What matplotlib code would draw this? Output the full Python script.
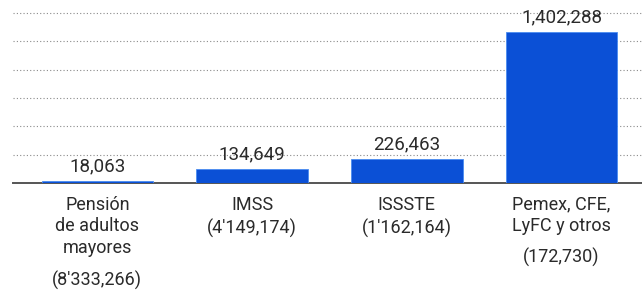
import matplotlib.pyplot as plt
from matplotlib.ticker import MultipleLocator

# pension amounts per group and number of beneficiaries
groups = ["Pensión\nde adultos\nmayores", "IMSS", "ISSSTE", "Pemex, CFE,\nLyFC y otros"]
beneficiaries = ["(8'333,266)", "(4'149,174)", "(1'162,164)", "(172,730)"]
amounts = [18063, 134649, 226463, 1402288]

plt.rcParams['font.family'] = ['Roboto', 'DejaVu Sans']

fig = plt.figure(figsize=(6.42, 2.94), dpi=100)
ax = fig.add_axes([13 / 642, 111 / 294, 629 / 642, 183 / 294])

x = list(range(len(groups)))
ax.bar(x, amounts, width=0.72, color="#0b50d6", edgecolor="#4a8cf0", linewidth=0.6, zorder=3)

ax.set_xlim(-0.545, 3.52)
ax.set_ylim(0, 1700000)
ax.yaxis.set_major_locator(MultipleLocator(263000))
ax.grid(axis="y", color="#8a8a8a", linestyle=(0, (1, 2)), linewidth=0.8, zorder=1)
ax.set_axisbelow(True)

for s in ["top", "right", "left"]:
    ax.spines[s].set_visible(False)
ax.spines["bottom"].set_color("#555555")
ax.spines["bottom"].set_linewidth(1.4)
ax.tick_params(left=False, bottom=False, labelleft=False, labelbottom=False)

for i, v in enumerate(amounts):
    ax.annotate(f"{v:,}", (i, v), xytext=(0, 4), textcoords="offset points",
                ha="center", va="bottom", fontsize=13.5, color="#2a2a2a", zorder=4)

# category names and beneficiaries below the baseline
for i, (g, b) in enumerate(zip(groups, beneficiaries)):
    ax.annotate(g, (i, 0), xytext=(0, -9), textcoords="offset points",
                ha="center", va="top", fontsize=13, color="#2a2a2a", linespacing=1.28,
                annotation_clip=False)
    nlines = g.count("\n") + 1
    off = -9 - nlines * 16.6 - (4.5 if nlines > 1 else 0)
    ax.annotate(b, (i, 0), xytext=(0, off), textcoords="offset points",
                ha="center", va="top", fontsize=13, color="#2a2a2a",
                annotation_clip=False)

fig.savefig("out.png", dpi=100)
